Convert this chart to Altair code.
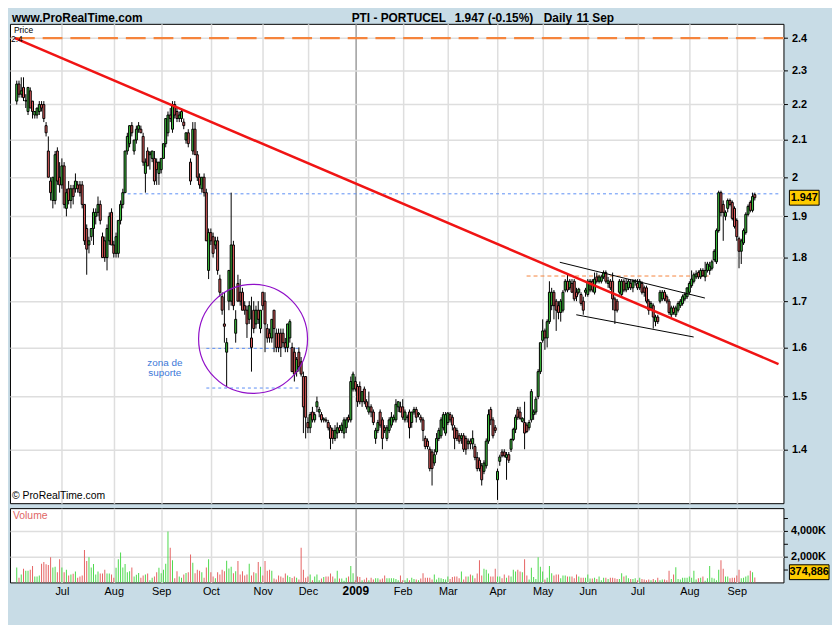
import json
import altair as alt
import pandas as pd

# ---------------- data (PTI - PORTUCEL, daily, 3 Jun 2008 .. 11 Sep 2009) -------------
opens = [
    2.21, 2.26, 2.23, 2.25, 2.21, 2.18, 2.24, 2.21, 2.17, 2.17,
    2.18, 2.20, 2.20, 2.14, 2.07, 1.99, 1.94, 1.94, 2.07, 2.00,
    1.98, 2.03, 1.92, 1.97, 1.94, 1.97, 1.97, 1.98, 1.98, 1.98,
    1.93, 1.87, 1.83, 1.85, 1.87, 1.90, 1.91, 1.93, 1.85, 1.84,
    1.80, 1.84, 1.91, 1.83, 1.81, 1.81, 1.89, 1.93, 1.96, 2.07,
    2.09, 2.14, 2.07, 2.10, 2.13, 2.13, 2.11, 2.01, 2.07, 2.06,
    2.05, 2.05, 2.04, 2.01, 2.02, 2.05, 2.09, 2.12, 2.17, 2.13,
    2.20, 2.18, 2.16, 2.16, 2.15, 2.10, 2.12, 2.04, 2.07, 2.13,
    2.06, 2.00, 1.97, 2.00, 1.96, 1.77, 1.86, 1.85, 1.83, 1.84,
    1.75, 1.71, 1.65, 1.59, 1.70, 1.70, 1.83, 1.63, 1.74, 1.72,
    1.72, 1.69, 1.68, 1.66, 1.62, 1.68, 1.65, 1.68, 1.64, 1.72,
    1.70, 1.64, 1.63, 1.62, 1.68, 1.63, 1.63, 1.63, 1.63, 1.61,
    1.60, 1.62, 1.60, 1.59, 1.55, 1.59, 1.57, 1.54, 1.54, 1.45,
    1.44, 1.47, 1.455, 1.48, 1.47, 1.465, 1.455, 1.455, 1.45, 1.44,
    1.435, 1.42, 1.43, 1.44, 1.435, 1.43, 1.44, 1.46, 1.455, 1.515,
    1.53, 1.52, 1.52, 1.49, 1.515, 1.49, 1.47, 1.48, 1.47, 1.42,
    1.435, 1.47, 1.455, 1.44, 1.42, 1.435, 1.445, 1.455, 1.455, 1.48,
    1.48, 1.48, 1.455, 1.46, 1.47, 1.45, 1.47, 1.475, 1.465, 1.46,
    1.455, 1.42, 1.415, 1.40, 1.395, 1.375, 1.395, 1.42, 1.425, 1.44,
    1.43, 1.45, 1.465, 1.46, 1.44, 1.435, 1.425, 1.42, 1.425, 1.42,
    1.41, 1.415, 1.41, 1.405, 1.385, 1.38, 1.37, 1.36, 1.37, 1.415,
    1.475, 1.455, 1.44, 1.345, 1.378, 1.395, 1.395, 1.385, 1.39, 1.40,
    1.418, 1.437, 1.475, 1.47, 1.452, 1.45, 1.445, 1.44, 1.455, 1.465,
    1.47, 1.50, 1.55, 1.615, 1.635, 1.62, 1.655, 1.69, 1.72, 1.70,
    1.69, 1.675, 1.68, 1.725, 1.745, 1.73, 1.74, 1.745, 1.72, 1.72,
    1.715, 1.70, 1.72, 1.715, 1.725, 1.745, 1.72, 1.755, 1.745, 1.745,
    1.755, 1.765, 1.74, 1.745, 1.745, 1.705, 1.70, 1.72, 1.715, 1.745,
    1.725, 1.73, 1.74, 1.73, 1.743, 1.74, 1.73, 1.74, 1.73, 1.73,
    1.70, 1.685, 1.69, 1.655, 1.665, 1.70, 1.705, 1.72, 1.71, 1.70,
    1.67, 1.685, 1.67, 1.68, 1.69, 1.695, 1.705, 1.71, 1.72, 1.735,
    1.745, 1.755, 1.765, 1.755, 1.77, 1.755, 1.77, 1.77, 1.775, 1.795,
    1.79, 1.865, 1.96, 1.93, 1.90, 1.92, 1.94, 1.935, 1.92, 1.89,
    1.845, 1.815, 1.835, 1.86, 1.905, 1.935, 1.915, 1.955,
]
highs = [
    2.27, 2.27, 2.28, 2.28, 2.23, 2.25, 2.25, 2.21, 2.18, 2.19,
    2.21, 2.21, 2.21, 2.15, 2.11, 2.00, 2.00, 2.07, 2.08, 2.04,
    2.05, 2.04, 1.97, 1.99, 1.98, 1.98, 2.01, 1.99, 1.99, 1.99,
    1.93, 1.88, 1.85, 1.87, 1.92, 1.92, 1.95, 1.94, 1.86, 1.85,
    1.88, 1.91, 1.92, 1.84, 1.86, 1.89, 1.94, 1.97, 2.07, 2.12,
    2.14, 2.15, 2.10, 2.14, 2.15, 2.14, 2.12, 2.05, 2.08, 2.07,
    2.07, 2.07, 2.05, 2.04, 2.05, 2.09, 2.16, 2.18, 2.19, 2.21,
    2.21, 2.19, 2.18, 2.19, 2.16, 2.12, 2.13, 2.05, 2.15, 2.15,
    2.07, 2.01, 2.00, 2.01, 1.97, 1.87, 1.87, 1.86, 1.85, 1.85,
    1.76, 1.72, 1.72, 1.62, 1.77, 1.96, 1.84, 1.68, 1.76, 1.75,
    1.73, 1.70, 1.69, 1.70, 1.71, 1.70, 1.69, 1.70, 1.68, 1.72,
    1.72, 1.65, 1.64, 1.66, 1.68, 1.64, 1.64, 1.64, 1.64, 1.62,
    1.65, 1.66, 1.61, 1.60, 1.58, 1.60, 1.58, 1.55, 1.54, 1.46,
    1.47, 1.48, 1.47, 1.50, 1.48, 1.47, 1.46, 1.46, 1.455, 1.445,
    1.44, 1.445, 1.45, 1.445, 1.45, 1.46, 1.46, 1.465, 1.54, 1.55,
    1.54, 1.525, 1.53, 1.51, 1.52, 1.495, 1.51, 1.485, 1.475, 1.44,
    1.455, 1.475, 1.46, 1.445, 1.445, 1.46, 1.47, 1.465, 1.495, 1.49,
    1.49, 1.495, 1.475, 1.465, 1.475, 1.47, 1.48, 1.48, 1.47, 1.465,
    1.46, 1.425, 1.42, 1.405, 1.40, 1.40, 1.43, 1.44, 1.46, 1.47,
    1.47, 1.47, 1.47, 1.465, 1.445, 1.44, 1.43, 1.43, 1.43, 1.425,
    1.42, 1.42, 1.435, 1.41, 1.395, 1.385, 1.375, 1.38, 1.42, 1.475,
    1.48, 1.46, 1.445, 1.365, 1.39, 1.40, 1.40, 1.395, 1.395, 1.42,
    1.44, 1.465, 1.48, 1.48, 1.46, 1.49, 1.45, 1.455, 1.515, 1.475,
    1.50, 1.555, 1.61, 1.66, 1.64, 1.66, 1.745, 1.73, 1.725, 1.705,
    1.70, 1.705, 1.725, 1.75, 1.76, 1.75, 1.75, 1.75, 1.73, 1.73,
    1.72, 1.71, 1.73, 1.75, 1.75, 1.75, 1.765, 1.765, 1.76, 1.76,
    1.77, 1.77, 1.755, 1.75, 1.765, 1.71, 1.705, 1.75, 1.75, 1.75,
    1.75, 1.75, 1.75, 1.75, 1.75, 1.75, 1.75, 1.745, 1.735, 1.735,
    1.705, 1.70, 1.695, 1.67, 1.67, 1.725, 1.725, 1.725, 1.715, 1.705,
    1.69, 1.69, 1.69, 1.70, 1.705, 1.715, 1.72, 1.73, 1.745, 1.77,
    1.765, 1.77, 1.77, 1.775, 1.775, 1.79, 1.79, 1.79, 1.795, 1.82,
    1.87, 1.965, 1.965, 1.94, 1.915, 1.945, 1.945, 1.94, 1.925, 1.895,
    1.85, 1.845, 1.87, 1.91, 1.93, 1.94, 1.96, 1.96,
]
lows = [
    2.20, 2.22, 2.22, 2.21, 2.19, 2.17, 2.19, 2.16, 2.16, 2.16,
    2.17, 2.18, 2.15, 2.11, 2.00, 1.94, 1.92, 1.93, 1.98, 1.96,
    1.97, 1.92, 1.90, 1.93, 1.92, 1.93, 1.96, 1.96, 1.95, 1.92,
    1.83, 1.76, 1.81, 1.84, 1.83, 1.88, 1.90, 1.88, 1.80, 1.79,
    1.77, 1.83, 1.83, 1.80, 1.80, 1.80, 1.88, 1.92, 1.96, 2.06,
    2.08, 2.11, 2.06, 2.09, 2.12, 2.12, 2.03, 1.96, 2.03, 2.02,
    2.04, 1.98, 1.98, 1.98, 2.01, 2.05, 2.08, 2.11, 2.15, 2.12,
    2.16, 2.15, 2.15, 2.15, 2.13, 2.09, 2.08, 1.98, 2.06, 2.06,
    1.99, 1.97, 1.96, 1.95, 1.84, 1.75, 1.83, 1.80, 1.82, 1.76,
    1.71, 1.67, 1.61, 1.52, 1.68, 1.69, 1.68, 1.61, 1.70, 1.69,
    1.68, 1.67, 1.62, 1.65, 1.55, 1.63, 1.64, 1.65, 1.63, 1.68,
    1.59, 1.61, 1.61, 1.61, 1.59, 1.59, 1.59, 1.58, 1.60, 1.59,
    1.59, 1.61, 1.55, 1.53, 1.54, 1.55, 1.54, 1.43, 1.42, 1.43,
    1.43, 1.45, 1.45, 1.47, 1.46, 1.45, 1.45, 1.45, 1.435, 1.40,
    1.41, 1.415, 1.42, 1.43, 1.43, 1.42, 1.43, 1.45, 1.45, 1.51,
    1.51, 1.48, 1.485, 1.48, 1.485, 1.475, 1.465, 1.46, 1.445, 1.41,
    1.43, 1.44, 1.40, 1.43, 1.415, 1.43, 1.44, 1.45, 1.45, 1.47,
    1.47, 1.455, 1.45, 1.45, 1.42, 1.44, 1.465, 1.45, 1.46, 1.45,
    1.415, 1.40, 1.40, 1.36, 1.335, 1.37, 1.39, 1.415, 1.42, 1.435,
    1.425, 1.445, 1.45, 1.435, 1.40, 1.415, 1.41, 1.41, 1.395, 1.39,
    1.40, 1.40, 1.40, 1.38, 1.36, 1.36, 1.335, 1.355, 1.365, 1.41,
    1.445, 1.42, 1.43, 1.31, 1.37, 1.385, 1.385, 1.345, 1.375, 1.395,
    1.415, 1.43, 1.455, 1.455, 1.45, 1.40, 1.43, 1.435, 1.45, 1.455,
    1.465, 1.495, 1.545, 1.61, 1.595, 1.60, 1.65, 1.68, 1.66, 1.635,
    1.66, 1.655, 1.675, 1.72, 1.72, 1.725, 1.72, 1.70, 1.70, 1.715,
    1.69, 1.67, 1.71, 1.71, 1.72, 1.72, 1.715, 1.74, 1.74, 1.74,
    1.75, 1.74, 1.73, 1.725, 1.68, 1.65, 1.675, 1.715, 1.71, 1.72,
    1.72, 1.725, 1.725, 1.72, 1.735, 1.725, 1.725, 1.715, 1.71, 1.695,
    1.67, 1.68, 1.64, 1.645, 1.65, 1.695, 1.70, 1.70, 1.695, 1.67,
    1.665, 1.67, 1.665, 1.675, 1.685, 1.69, 1.70, 1.705, 1.715, 1.73,
    1.74, 1.75, 1.75, 1.75, 1.755, 1.745, 1.765, 1.76, 1.77, 1.79,
    1.785, 1.86, 1.90, 1.84, 1.89, 1.91, 1.925, 1.89, 1.87, 1.84,
    1.775, 1.785, 1.83, 1.855, 1.90, 1.91, 1.91, 1.94,
]
closes = [
    2.26, 2.23, 2.24, 2.22, 2.212, 2.25, 2.19, 2.18, 2.18, 2.19,
    2.20, 2.19, 2.16, 2.12, 2.00, 1.96, 2.00, 2.06, 1.99, 1.98,
    2.03, 1.93, 1.96, 1.94, 1.97, 1.95, 1.99, 1.97, 1.96, 1.93,
    1.84, 1.82, 1.84, 1.87, 1.91, 1.91, 1.93, 1.89, 1.80, 1.80,
    1.87, 1.90, 1.83, 1.81, 1.85, 1.89, 1.93, 1.96, 2.07, 2.11,
    2.14, 2.12, 2.10, 2.13, 2.14, 2.12, 2.04, 2.04, 2.03, 2.065,
    2.07, 1.99, 2.02, 2.04, 2.05, 2.09, 2.16, 2.17, 2.16, 2.20,
    2.17, 2.16, 2.17, 2.18, 2.14, 2.12, 2.09, 1.99, 2.13, 2.06,
    2.00, 1.98, 2.00, 1.96, 1.84, 1.86, 1.84, 1.81, 1.84, 1.77,
    1.72, 1.68, 1.645, 1.61, 1.77, 1.83, 1.69, 1.66, 1.70, 1.70,
    1.68, 1.68, 1.65, 1.69, 1.60, 1.64, 1.68, 1.66, 1.68, 1.69,
    1.65, 1.62, 1.62, 1.66, 1.64, 1.60, 1.60, 1.60, 1.61, 1.60,
    1.65, 1.655, 1.55, 1.545, 1.575, 1.56, 1.545, 1.48, 1.46, 1.44,
    1.465, 1.455, 1.465, 1.49, 1.475, 1.455, 1.457, 1.453, 1.44, 1.42,
    1.42, 1.435, 1.44, 1.435, 1.445, 1.455, 1.455, 1.455, 1.53, 1.545,
    1.515, 1.49, 1.49, 1.51, 1.49, 1.48, 1.48, 1.47, 1.45, 1.435,
    1.45, 1.445, 1.42, 1.435, 1.44, 1.455, 1.46, 1.46, 1.485, 1.49,
    1.47, 1.46, 1.47, 1.46, 1.44, 1.47, 1.475, 1.46, 1.468, 1.455,
    1.435, 1.405, 1.405, 1.365, 1.365, 1.39, 1.42, 1.435, 1.455, 1.465,
    1.465, 1.468, 1.455, 1.445, 1.42, 1.42, 1.415, 1.425, 1.40, 1.40,
    1.415, 1.41, 1.42, 1.385, 1.365, 1.365, 1.345, 1.375, 1.415, 1.465,
    1.455, 1.425, 1.435, 1.36, 1.386, 1.388, 1.388, 1.39, 1.38, 1.418,
    1.437, 1.46, 1.46, 1.458, 1.458, 1.43, 1.433, 1.45, 1.51, 1.47,
    1.495, 1.55, 1.61, 1.635, 1.62, 1.655, 1.72, 1.72, 1.69, 1.68,
    1.675, 1.70, 1.72, 1.745, 1.725, 1.745, 1.72, 1.705, 1.71, 1.727,
    1.695, 1.68, 1.725, 1.745, 1.745, 1.725, 1.75, 1.745, 1.755, 1.755,
    1.765, 1.745, 1.746, 1.73, 1.705, 1.68, 1.68, 1.745, 1.745, 1.725,
    1.74, 1.745, 1.73, 1.745, 1.746, 1.73, 1.745, 1.72, 1.72, 1.70,
    1.68, 1.695, 1.665, 1.665, 1.655, 1.72, 1.72, 1.705, 1.70, 1.675,
    1.685, 1.675, 1.685, 1.695, 1.70, 1.71, 1.715, 1.73, 1.74, 1.75,
    1.76, 1.762, 1.755, 1.77, 1.758, 1.77, 1.785, 1.78, 1.79, 1.815,
    1.865, 1.96, 1.91, 1.91, 1.91, 1.94, 1.93, 1.895, 1.875, 1.85,
    1.815, 1.84, 1.865, 1.905, 1.925, 1.915, 1.95, 1.947,
]
volumes_k = [
    1161, 370, 617, 1062, 914, 914, 988, 1284, 469, 469,
    543, 1457, 1580, 1408, 1358, 1951, 1161, 1210, 790, 1803,
    1161, 790, 988, 543, 617, 667, 840, 370, 469, 543,
    2519, 1655, 1951, 1161, 1432, 617, 840, 691, 691,
    988, 691, 691, 617, 370, 1136, 1803, 2322, 1161, 1432,
    790, 864, 1161, 469, 593, 741, 370, 543, 617, 691,
    173, 370, 469, 790, 1136, 716, 988, 1457, 3952, 2692,
    1729, 321, 864, 469, 370, 617, 741, 790, 2174, 1531,
    716, 988, 914, 790, 370, 1161, 1803, 790, 469, 321,
    790, 617, 988, 864, 1680, 1087, 1210, 716, 864, 1655,
    617, 864, 543, 617, 1457, 543, 790, 716, 1580, 1210,
    543, 1655, 914, 988, 914, 296, 222, 543, 469, 370,
    691, 543, 420, 346, 469, 370, 222, 2692, 988,
    370, 469, 617, 173, 469, 617, 173, 296, 420,
    469, 469, 691, 469, 296, 914, 296, 296, 124, 370,
    469, 1284, 716, 173, 469, 420, 173, 222, 370, 173,
    370, 222, 321, 321, 222, 296, 543, 321, 321, 321,
    321, 272, 173, 543, 173, 173, 321, 173, 370, 272, 222,
    173, 296, 716, 370, 370, 370, 222, 617, 222, 370,
    321, 272, 222, 469, 272, 420, 469, 469, 321, 840,
    222, 469, 469, 617, 543, 321, 691, 1729, 543, 1062,
    988, 691, 469, 469, 1062, 469, 469, 321, 617, 370,
    543, 469, 988, 840, 988, 840, 790, 1803, 543, 222,
    1136, 420, 272, 1951, 1210, 840, 222, 370, 1284, 716,
    543, 617, 617, 321, 543, 543, 469, 469, 469, 321,
    617, 469, 370, 370, 370, 617, 296, 296, 370, 272,
    469, 173, 370, 370, 272, 370, 370, 321, 272,
    272, 716, 469, 543, 321, 272, 272, 321, 173, 370,
    272, 222, 173, 222, 173, 272, 173, 370, 173,
    222, 222, 173, 914, 272, 617, 1186, 272, 222, 370,
    370, 370, 469, 370, 914, 222, 321, 370, 469, 124,
    321, 1284, 370, 296, 173, 988, 1729, 1062, 469, 469,
    321, 370, 370, 543, 988, 321, 370, 469, 543, 914, 790, 374.886,
]

# first trading day of each month (bar index) and its label
month_ticks = [20, 43, 64, 86, 109, 129, 150, 171, 191, 213, 233, 253, 275, 298, 319]
month_names = ["Jul", "Aug", "Sep", "Oct", "Nov", "Dec", "2009", "Feb", "Mar",
               "Apr", "May", "Jun", "Jul", "Aug", "Sep"]
year_tick = 150
price_ticks = [1.4, 1.5, 1.6, 1.7, 1.8, 1.9, 2.0, 2.1, 2.2, 2.3, 2.4]
volume_ticks = [1000, 2000, 3000, 4000, 5000]
volume_labelled = [2000, 4000]

last_price = 1.947
last_volume_k = 374.886

# drawn annotations (bar index, price)
resistance_level = [2.4]
trend_idx = [-0.8, 337.5]
trend_px = [2.4, 1.5655]
channel_idx = [240.6, 304.9, 247.9, 299.9]
channel_px = [1.789, 1.707, 1.670, 1.622]
channel_seg = ["upper", "upper", "lower", "lower"]
blue_level = [1.957, 1.598, 1.517]
blue_from = [46.5, 84.0, 84.0]
blue_to = [337.5, 125.6, 125.6]
orange_level = [1.757]
orange_from = [225.9]
orange_to = [306.5]
circle_idx = [104.7]
circle_px = [1.618]
note_idx = [65.6, 65.6]
note_px = [1.5675, 1.547]
note_text = ["zona de", "suporte"]

# ---------------- styling ----------------
FONT = "Liberation Sans"
BG = "#c8dce6"
GREEN = "#3ec43e"
RED = "#e05c5c"
VGREEN = "#4cd94c"
VRED = "#e56363"
GRID = "#dedede"
W, HP, HV = 781, 484, 75

n = len(closes)
bars = pd.DataFrame({
    "i": list(range(n)), "o": opens, "h": highs, "l": lows, "c": closes, "v": volumes_k,
    "dir": ["up" if c >= o else "down" for o, c in zip(opens, closes)],
})

xs = alt.Scale(domain=[-0.8, 337.5], nice=False, zero=False)
ps = alt.Scale(type="log", domain=[1.3044, 2.4456], nice=False, zero=False)
vs = alt.Scale(domain=[0, 5770], nice=False, zero=True)

grid_col = {"condition": {"test": f"datum.value == {year_tick}", "value": "#9c9c9c"}, "value": GRID}

x_axis_price = alt.Axis(values=month_ticks, grid=True, gridColor=grid_col, gridWidth=1.5,
                        labels=False, ticks=False, domain=False, title=None)
y_axis_price = alt.Axis(orient="right", values=price_ticks, grid=True, gridColor=GRID, gridWidth=1.5,
                        labelExpr="format(datum.value, '.1~f')", labelFont=FONT, labelFontSize=11,
                        labelFontWeight="bold", labelColor="black", labelPadding=4, labelOverlap=False,
                        tickColor="black", tickSize=4, domain=False, title=None)

label_expr = f"{json.dumps(month_names)}[indexof({json.dumps(month_ticks)}, datum.value)]"
x_axis_vol = alt.Axis(values=month_ticks, grid=True, gridColor=grid_col, gridWidth=1.5,
                      labelExpr=label_expr, labelFont=FONT,
                      labelFontSize={"condition": {"test": f"datum.value == {year_tick}", "value": 12}, "value": 11},
                      labelFontWeight={"condition": {"test": f"datum.value == {year_tick}", "value": "bold"}, "value": "normal"},
                      labelColor="black", labelPadding=3, labelOverlap=False, labelFlush=False,
                      ticks=False, domain=False, title=None)
vol_lab = " || ".join(f"datum.value == {v}" for v in volume_labelled)
y_axis_vol = alt.Axis(orient="right", values=volume_ticks, grid=True, gridColor=GRID, gridWidth=1.5,
                      gridOpacity={"condition": {"test": vol_lab, "value": 1}, "value": 0},
                      labelExpr=f"({vol_lab}) ? format(datum.value, ',') + 'K' : ''",
                      labelFont=FONT, labelFontSize=11, labelFontWeight="bold", labelColor="black",
                      labelPadding=3, labelOverlap=False, tickColor="black", tickSize=4,
                      domain=False, title=None)

X = lambda f="i": alt.X(f"{f}:Q", scale=xs, axis=x_axis_price)
Y = lambda f="p": alt.Y(f"{f}:Q", scale=ps, axis=y_axis_price)


def text_at(txt, x, y, size, weight="normal", color="black", align="left"):
    return alt.Chart(pd.DataFrame({"t": [txt]})).mark_text(
        align=align, baseline="alphabetic", font=FONT, fontSize=size, fontWeight=weight, color=color
    ).encode(x=alt.value(x), y=alt.value(y), text="t:N")


# ---------------- price panel ----------------
res = alt.Chart(pd.DataFrame({"p": resistance_level})).mark_rule(
    color="#f5843c", strokeWidth=2.2, strokeDash=[20, 8]).encode(y=Y())
blue = alt.Chart(pd.DataFrame({"p": blue_level, "a": blue_from, "b": blue_to})).mark_rule(
    color="#5b8ef5", strokeWidth=1, strokeDash=[3, 3]).encode(x=X("a"), x2="b:Q", y=Y())
orng = alt.Chart(pd.DataFrame({"p": orange_level, "a": orange_from, "b": orange_to})).mark_rule(
    color="#f5843c", strokeWidth=1, strokeDash=[4, 3]).encode(x=X("a"), x2="b:Q", y=Y())
wick = alt.Chart(bars).mark_rule(color="black", strokeWidth=1).encode(x=X(), y=Y("l"), y2="h:Q")
body = alt.Chart(bars).mark_bar(size=2, stroke="black", strokeWidth=1).encode(
    x=X(), y=Y("o"), y2="c:Q",
    color=alt.Color("dir:N", scale=alt.Scale(domain=["up", "down"], range=[GREEN, RED]), legend=None))
trend = alt.Chart(pd.DataFrame({"i": trend_idx, "p": trend_px})).mark_line(
    color="#f01414", strokeWidth=2.5, clip=True).encode(x=X(), y=Y())
chan = alt.Chart(pd.DataFrame({"i": channel_idx, "p": channel_px, "s": channel_seg})).mark_line(
    color="black", strokeWidth=1).encode(x=X(), y=Y(), detail="s:N")
circ = alt.Chart(pd.DataFrame({"i": circle_idx, "p": circle_px})).mark_point(
    shape="circle", size=110 * 110, filled=False, color="#9010c8", strokeWidth=1.2, opacity=1
).encode(x=X(), y=Y())
note = alt.Chart(pd.DataFrame({"i": note_idx, "p": note_px, "t": note_text})).mark_text(
    align="center", baseline="middle", font=FONT, fontSize=10, color="#3c78d8"
).encode(x=X(), y=Y(), text="t:N")

last_df = pd.DataFrame({"p": [last_price], "t": [f"{last_price:.3f}"]})
pbox = alt.Chart(last_df).mark_point(
    shape="M-1,-0.5L1,-0.5L1,0.5L-1,0.5Z", size=900, filled=True, fill="#ffcc00",
    stroke="black", strokeWidth=1, opacity=1).encode(x=alt.value(W + 21), y=Y())
ptxt = alt.Chart(last_df).mark_text(
    align="center", baseline="middle", font=FONT, fontSize=11, fontWeight="bold", color="black"
).encode(x=alt.value(W + 21), y=Y(), text="t:N")

headers = [
    text_at("www.ProRealTime.com", 2, -2, 12, "bold"),
    text_at("PTI - PORTUCEL", 345, -2, 12, "bold"),
    text_at(f"{last_price:.3f} (-0.15%)", 449, -2, 12, "bold"),
    text_at("Daily", 539, -2, 12, "bold"),
    text_at("11 Sep", 572, -2, 12, "bold"),
    text_at("Price", 4, 9, 8.5),
    text_at("2.4", 1, 18.5, 8.5),
    text_at("\u00a9 ProRealTime.com", 2, 480, 10.5),
]

price = alt.layer(res, blue, orng, wick, body, trend, chan, circ, note, pbox, ptxt, *headers).properties(
    width=W, height=HP)

# ---------------- volume panel ----------------
vbars = alt.Chart(bars).mark_bar(size=1).encode(
    x=alt.X("i:Q", scale=xs, axis=x_axis_vol),
    y=alt.Y("v:Q", scale=vs, axis=y_axis_vol),
    color=alt.Color("dir:N", scale=alt.Scale(domain=["up", "down"], range=[VGREEN, VRED]), legend=None))
vol_df = pd.DataFrame({"t": [f"{round(last_volume_k * 1000):,}"]})
vbox = alt.Chart(vol_df).mark_point(
    shape="M-1,-0.375L1,-0.375L1,0.375L-1,0.375Z", size=1600, filled=True, fill="#ffcc00",
    stroke="black", strokeWidth=1, opacity=1).encode(x=alt.value(W + 26), y=alt.value(64.7))
vtxt = alt.Chart(vol_df).mark_text(
    align="center", baseline="middle", font=FONT, fontSize=11, fontWeight="bold", color="black"
).encode(x=alt.value(W + 26), y=alt.value(64.7), text="t:N")
vlabel = text_at("Volume", 3, 11, 10.5, color="#e06666")

vol = alt.layer(vbars, vlabel, vbox, vtxt).properties(width=W, height=HV)

chart = (
    alt.vconcat(price, vol, spacing=3)
    .resolve_scale(color="independent")
    .properties(background=BG, padding={"left": 0, "top": 0, "right": 0, "bottom": 25})
    .configure_view(stroke="black", strokeWidth=1, fill="white")
)

chart.save("out.html", embed_options={"renderer": "svg", "actions": False})
